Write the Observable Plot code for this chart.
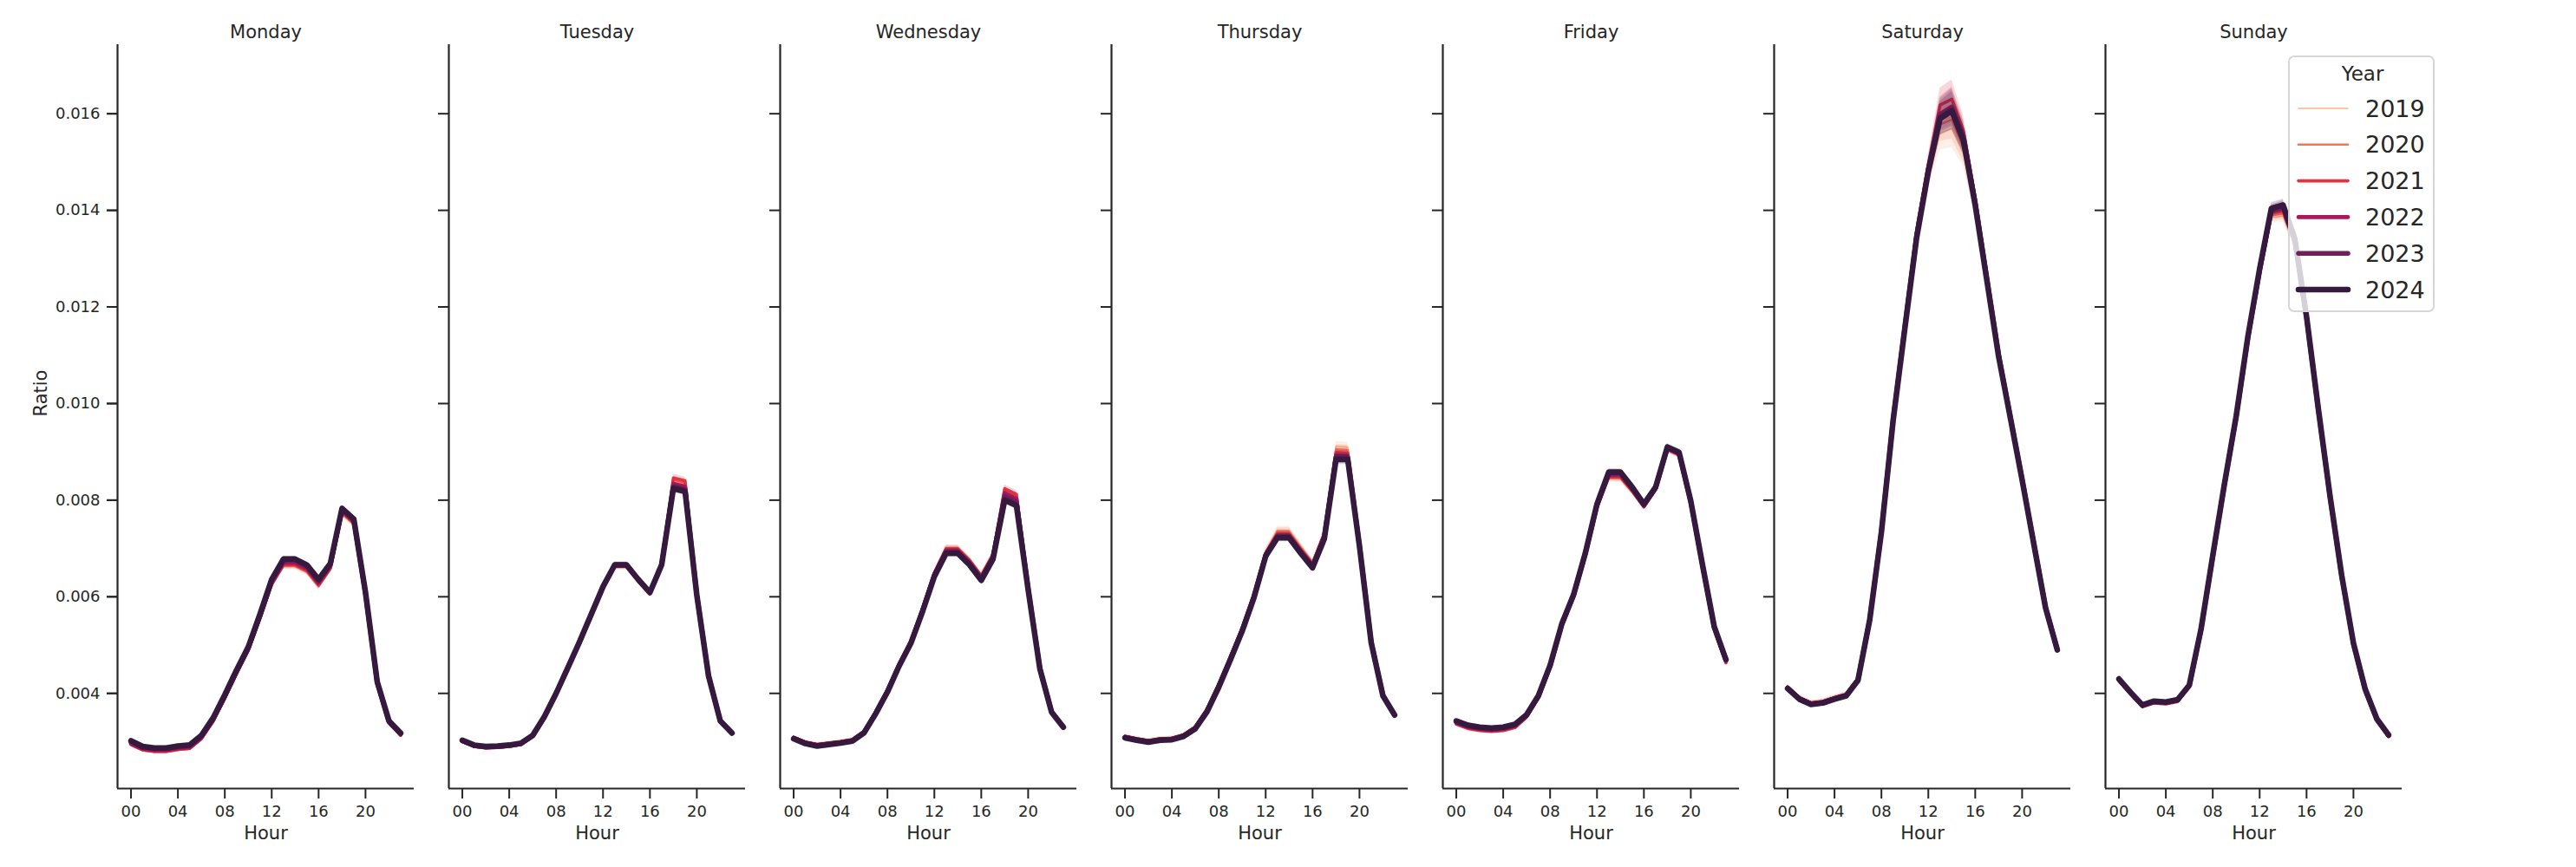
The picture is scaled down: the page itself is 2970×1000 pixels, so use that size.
<!DOCTYPE html>
<html>
<head>
<meta charset="utf-8">
<script src="https://cdn.jsdelivr.net/npm/d3@7"></script>
<script src="https://cdn.jsdelivr.net/npm/@observablehq/plot@0.6"></script>
<style>
  body { margin: 0; background: #ffffff; font-family: "DejaVu Sans", sans-serif; }
  #wrap { position: relative; width: 2970px; height: 1000px; background: #ffffff; }
  #legend { position: absolute; left: 2638px; top: 64px; width: 169px; height: 296px; box-sizing: border-box;
            border: 2px solid #d6d6d6; border-radius: 7px; background: rgba(255,255,255,0.8); }
</style>
</head>
<body>
<div id="wrap"><div id="legend"></div></div>
<script>
// ---------- categories ----------
const days = ["Monday", "Tuesday", "Wednesday", "Thursday", "Friday", "Saturday", "Sunday"];
const years = [2019, 2020, 2021, 2022, 2023, 2024];
const hours = [0,1,2,3,4,5,6,7,8,9,10,11,12,13,14,15,16,17,18,19,20,21,22,23];
const xTicks = [0, 4, 8, 12, 16, 20];
const yTicks = [0.004, 0.006, 0.008, 0.010, 0.012, 0.014, 0.016];

// ---------- series values (Ratio by hour) ----------
const mon2019 = [0.00292,0.00281,0.00278,0.00278,0.00282,0.00284,0.00304,0.00340,0.00387,0.00438,0.00486,0.00552,0.00622,0.00662,0.00662,0.00650,0.00620,0.00655,0.00771,0.00749,0.00601,0.00418,0.00337,0.00311];
const mon2020 = [0.00293,0.00282,0.00279,0.00279,0.00283,0.00285,0.00305,0.00341,0.00388,0.00439,0.00487,0.00553,0.00624,0.00664,0.00664,0.00652,0.00622,0.00657,0.00773,0.00751,0.00602,0.00419,0.00338,0.00312];
const mon2021 = [0.00294,0.00283,0.00280,0.00280,0.00284,0.00286,0.00306,0.00342,0.00390,0.00441,0.00489,0.00555,0.00626,0.00666,0.00666,0.00654,0.00624,0.00659,0.00775,0.00753,0.00603,0.00420,0.00339,0.00313];
const mon2022 = [0.00296,0.00285,0.00282,0.00282,0.00286,0.00288,0.00308,0.00344,0.00392,0.00443,0.00491,0.00558,0.00629,0.00670,0.00670,0.00658,0.00628,0.00662,0.00778,0.00756,0.00605,0.00421,0.00340,0.00315];
const mon2023 = [0.00299,0.00288,0.00285,0.00285,0.00289,0.00291,0.00311,0.00347,0.00395,0.00446,0.00494,0.00561,0.00633,0.00674,0.00675,0.00662,0.00632,0.00666,0.00781,0.00759,0.00607,0.00423,0.00342,0.00317];
const mon2024 = [0.00302,0.00290,0.00287,0.00287,0.00291,0.00293,0.00313,0.00349,0.00397,0.00448,0.00496,0.00564,0.00636,0.00678,0.00678,0.00666,0.00636,0.00669,0.00783,0.00761,0.00609,0.00424,0.00343,0.00318];

const tue2019 = [0.00299,0.00289,0.00286,0.00287,0.00289,0.00293,0.00310,0.00349,0.00397,0.00450,0.00504,0.00561,0.00617,0.00661,0.00661,0.00631,0.00604,0.00668,0.00838,0.00832,0.00605,0.00436,0.00342,0.00317];
const tue2020 = [0.00300,0.00290,0.00287,0.00288,0.00290,0.00294,0.00311,0.00350,0.00398,0.00451,0.00505,0.00562,0.00618,0.00662,0.00662,0.00632,0.00605,0.00669,0.00842,0.00836,0.00606,0.00436,0.00342,0.00317];
const tue2021 = [0.00300,0.00290,0.00287,0.00288,0.00290,0.00294,0.00311,0.00350,0.00398,0.00451,0.00505,0.00562,0.00619,0.00663,0.00663,0.00633,0.00606,0.00670,0.00846,0.00840,0.00607,0.00437,0.00342,0.00317];
const tue2022 = [0.00301,0.00291,0.00288,0.00289,0.00291,0.00295,0.00312,0.00351,0.00399,0.00452,0.00506,0.00563,0.00620,0.00665,0.00665,0.00635,0.00608,0.00668,0.00834,0.00828,0.00605,0.00437,0.00343,0.00318];
const tue2023 = [0.00302,0.00292,0.00289,0.00290,0.00292,0.00296,0.00312,0.00351,0.00400,0.00453,0.00507,0.00564,0.00621,0.00666,0.00666,0.00636,0.00609,0.00667,0.00828,0.00822,0.00604,0.00436,0.00343,0.00318];
const tue2024 = [0.00303,0.00293,0.00290,0.00291,0.00293,0.00297,0.00313,0.00352,0.00400,0.00453,0.00507,0.00564,0.00621,0.00666,0.00666,0.00636,0.00609,0.00666,0.00824,0.00818,0.00603,0.00436,0.00343,0.00318];

const wed2019 = [0.00311,0.00301,0.00296,0.00299,0.00302,0.00306,0.00323,0.00362,0.00407,0.00461,0.00509,0.00576,0.00651,0.00702,0.00702,0.00678,0.00646,0.00688,0.00816,0.00805,0.00619,0.00453,0.00363,0.00332];
const wed2020 = [0.00310,0.00300,0.00295,0.00298,0.00301,0.00305,0.00322,0.00361,0.00406,0.00460,0.00508,0.00575,0.00650,0.00701,0.00701,0.00677,0.00645,0.00688,0.00820,0.00808,0.00620,0.00454,0.00363,0.00332];
const wed2021 = [0.00309,0.00299,0.00294,0.00297,0.00300,0.00304,0.00321,0.00361,0.00406,0.00460,0.00508,0.00575,0.00649,0.00699,0.00699,0.00675,0.00643,0.00687,0.00824,0.00812,0.00621,0.00454,0.00363,0.00332];
const wed2022 = [0.00308,0.00298,0.00293,0.00296,0.00299,0.00303,0.00320,0.00360,0.00405,0.00459,0.00506,0.00573,0.00647,0.00696,0.00696,0.00672,0.00640,0.00684,0.00815,0.00803,0.00619,0.00453,0.00362,0.00331];
const wed2023 = [0.00307,0.00297,0.00292,0.00295,0.00298,0.00302,0.00319,0.00359,0.00404,0.00458,0.00505,0.00572,0.00645,0.00693,0.00693,0.00669,0.00637,0.00681,0.00808,0.00796,0.00617,0.00452,0.00362,0.00331];
const wed2024 = [0.00306,0.00296,0.00291,0.00294,0.00297,0.00301,0.00318,0.00358,0.00403,0.00457,0.00504,0.00570,0.00642,0.00690,0.00690,0.00666,0.00634,0.00678,0.00800,0.00789,0.00615,0.00451,0.00361,0.00330];

const thu2019 = [0.00313,0.00308,0.00304,0.00308,0.00309,0.00316,0.00332,0.00369,0.00421,0.00480,0.00539,0.00609,0.00694,0.00738,0.00738,0.00705,0.00673,0.00735,0.00912,0.00910,0.00710,0.00508,0.00398,0.00358];
const thu2020 = [0.00312,0.00307,0.00303,0.00307,0.00308,0.00315,0.00331,0.00368,0.00420,0.00478,0.00537,0.00607,0.00692,0.00735,0.00735,0.00702,0.00671,0.00733,0.00905,0.00904,0.00709,0.00508,0.00398,0.00358];
const thu2021 = [0.00311,0.00306,0.00302,0.00306,0.00307,0.00314,0.00330,0.00366,0.00418,0.00476,0.00535,0.00604,0.00690,0.00730,0.00730,0.00698,0.00668,0.00730,0.00899,0.00898,0.00708,0.00507,0.00397,0.00357];
const thu2022 = [0.00310,0.00305,0.00301,0.00305,0.00306,0.00313,0.00329,0.00365,0.00417,0.00474,0.00533,0.00602,0.00688,0.00727,0.00727,0.00695,0.00665,0.00727,0.00893,0.00892,0.00707,0.00506,0.00396,0.00356];
const thu2023 = [0.00309,0.00304,0.00300,0.00304,0.00305,0.00312,0.00328,0.00364,0.00415,0.00472,0.00531,0.00600,0.00686,0.00725,0.00725,0.00693,0.00663,0.00724,0.00890,0.00889,0.00706,0.00506,0.00396,0.00356];
const thu2024 = [0.00308,0.00303,0.00299,0.00303,0.00304,0.00311,0.00327,0.00362,0.00413,0.00470,0.00529,0.00598,0.00684,0.00722,0.00722,0.00690,0.00660,0.00720,0.00884,0.00884,0.00705,0.00505,0.00395,0.00355];

const fri2019 = [0.00340,0.00331,0.00327,0.00325,0.00327,0.00333,0.00354,0.00393,0.00456,0.00542,0.00602,0.00688,0.00787,0.00844,0.00844,0.00817,0.00788,0.00824,0.00907,0.00896,0.00796,0.00664,0.00536,0.00468];
const fri2020 = [0.00338,0.00329,0.00325,0.00323,0.00325,0.00331,0.00352,0.00392,0.00455,0.00541,0.00601,0.00687,0.00786,0.00846,0.00846,0.00818,0.00787,0.00823,0.00906,0.00895,0.00795,0.00663,0.00535,0.00466];
const fri2021 = [0.00336,0.00327,0.00323,0.00321,0.00323,0.00329,0.00351,0.00391,0.00454,0.00540,0.00600,0.00686,0.00785,0.00848,0.00848,0.00819,0.00786,0.00822,0.00905,0.00894,0.00794,0.00662,0.00533,0.00463];
const fri2022 = [0.00339,0.00330,0.00326,0.00324,0.00326,0.00332,0.00353,0.00393,0.00456,0.00542,0.00602,0.00688,0.00788,0.00852,0.00852,0.00822,0.00788,0.00824,0.00907,0.00896,0.00796,0.00664,0.00536,0.00467];
const fri2023 = [0.00341,0.00332,0.00328,0.00326,0.00328,0.00334,0.00355,0.00394,0.00457,0.00543,0.00603,0.00689,0.00790,0.00855,0.00855,0.00825,0.00790,0.00826,0.00909,0.00898,0.00797,0.00665,0.00537,0.00469];
const fri2024 = [0.00343,0.00334,0.00330,0.00328,0.00330,0.00336,0.00356,0.00395,0.00458,0.00544,0.00604,0.00690,0.00792,0.00858,0.00858,0.00827,0.00792,0.00827,0.00910,0.00899,0.00798,0.00666,0.00538,0.00470];

const sat2019 = [0.00415,0.00393,0.00382,0.00385,0.00393,0.00400,0.00431,0.00552,0.00730,0.00958,0.01147,0.01330,0.01465,0.01560,0.01570,0.01520,0.01398,0.01247,0.01093,0.00968,0.00842,0.00709,0.00578,0.00493];
const sat2020 = [0.00414,0.00392,0.00381,0.00384,0.00392,0.00399,0.00430,0.00553,0.00733,0.00962,0.01152,0.01338,0.01472,0.01578,0.01588,0.01530,0.01403,0.01250,0.01095,0.00969,0.00842,0.00709,0.00578,0.00492];
const sat2021 = [0.00413,0.00391,0.00380,0.00383,0.00391,0.00398,0.00430,0.00556,0.00740,0.00972,0.01166,0.01358,0.01495,0.01618,0.01630,0.01565,0.01425,0.01264,0.01104,0.00975,0.00846,0.00712,0.00579,0.00492];
const sat2022 = [0.00412,0.00390,0.00379,0.00382,0.00390,0.00397,0.00429,0.00554,0.00737,0.00968,0.01161,0.01350,0.01488,0.01600,0.01615,0.01556,0.01419,0.01260,0.01101,0.00973,0.00844,0.00710,0.00578,0.00491];
const sat2023 = [0.00411,0.00389,0.00378,0.00381,0.00389,0.00396,0.00428,0.00553,0.00736,0.00967,0.01159,0.01347,0.01485,0.01596,0.01612,0.01552,0.01416,0.01258,0.01100,0.00972,0.00843,0.00710,0.00578,0.00491];
const sat2024 = [0.00410,0.00388,0.00377,0.00380,0.00388,0.00395,0.00427,0.00552,0.00734,0.00965,0.01156,0.01343,0.01480,0.01590,0.01606,0.01544,0.01411,0.01254,0.01097,0.00970,0.00842,0.00709,0.00577,0.00490];

const sun2019 = [0.00428,0.00400,0.00374,0.00382,0.00380,0.00385,0.00414,0.00529,0.00678,0.00824,0.00963,0.01126,0.01262,0.01385,0.01388,0.01327,0.01175,0.00986,0.00806,0.00641,0.00502,0.00407,0.00345,0.00311];
const sun2020 = [0.00427,0.00399,0.00373,0.00381,0.00379,0.00384,0.00414,0.00530,0.00680,0.00827,0.00966,0.01129,0.01266,0.01390,0.01393,0.01330,0.01176,0.00987,0.00806,0.00641,0.00502,0.00407,0.00345,0.00311];
const sun2021 = [0.00426,0.00398,0.00372,0.00380,0.00378,0.00383,0.00413,0.00529,0.00681,0.00829,0.00969,0.01132,0.01270,0.01395,0.01398,0.01333,0.01177,0.00987,0.00806,0.00641,0.00501,0.00406,0.00344,0.00310];
const sun2022 = [0.00428,0.00400,0.00374,0.00382,0.00380,0.00385,0.00415,0.00531,0.00683,0.00831,0.00971,0.01135,0.01273,0.01398,0.01403,0.01336,0.01178,0.00988,0.00807,0.00642,0.00502,0.00407,0.00345,0.00312];
const sun2023 = [0.00429,0.00401,0.00375,0.00383,0.00381,0.00386,0.00416,0.00532,0.00684,0.00833,0.00973,0.01137,0.01276,0.01400,0.01408,0.01339,0.01179,0.00989,0.00808,0.00643,0.00503,0.00408,0.00346,0.00313];
const sun2024 = [0.00430,0.00402,0.00376,0.00384,0.00382,0.00387,0.00417,0.00533,0.00685,0.00834,0.00974,0.01139,0.01279,0.01404,0.01411,0.01341,0.01180,0.00990,0.00809,0.00644,0.00504,0.00409,0.00347,0.00314];

// ---------- confidence-band half widths ----------
const ciMon = [0.00003,0.00003,0.00003,0.00003,0.00003,0.00003,0.00003,0.00004,0.00004,0.00004,0.00004,0.00005,0.00005,0.00006,0.00006,0.00006,0.00006,0.00006,0.00007,0.00006,0.00005,0.00004,0.00004,0.00003];
const ciTue = [0.00003,0.00003,0.00003,0.00003,0.00003,0.00003,0.00003,0.00004,0.00004,0.00004,0.00004,0.00005,0.00005,0.00006,0.00006,0.00006,0.00006,0.00006,0.00008,0.00008,0.00005,0.00004,0.00004,0.00003];
const ciWed = [0.00003,0.00003,0.00003,0.00003,0.00003,0.00003,0.00003,0.00004,0.00004,0.00004,0.00004,0.00005,0.00005,0.00006,0.00006,0.00006,0.00006,0.00006,0.00008,0.00008,0.00005,0.00004,0.00004,0.00003];
const ciThu = [0.00003,0.00003,0.00003,0.00003,0.00003,0.00003,0.00003,0.00004,0.00004,0.00005,0.00005,0.00006,0.00006,0.00008,0.00008,0.00007,0.00006,0.00007,0.00010,0.00010,0.00006,0.00004,0.00004,0.00003];
const ciFri = [0.00003,0.00003,0.00003,0.00003,0.00003,0.00003,0.00003,0.00004,0.00004,0.00005,0.00005,0.00006,0.00006,0.00007,0.00007,0.00006,0.00006,0.00006,0.00007,0.00007,0.00006,0.00005,0.00004,0.00004];
const ciSat = [0.00004,0.00004,0.00004,0.00004,0.00004,0.00004,0.00005,0.00006,0.00008,0.00010,0.00012,0.00015,0.00020,0.00035,0.00040,0.00030,0.00015,0.00010,0.00008,0.00007,0.00006,0.00005,0.00005,0.00004];
const ciSun = [0.00004,0.00004,0.00004,0.00004,0.00004,0.00004,0.00004,0.00005,0.00006,0.00007,0.00008,0.00009,0.00010,0.00012,0.00012,0.00010,0.00008,0.00007,0.00006,0.00005,0.00005,0.00004,0.00004,0.00004];

// ---------- styles ----------
const yearColors = ["#f6b48f", "#f37651", "#e13342", "#ad1759", "#701f57", "#35193e"];
const lineWidths = [1.6, 2.6, 3.6, 4.6, 5.5, 6.5];
const ink = "#262626";

// ---------- table built from the arrays ----------
const dayTable = [
  ["Monday",    [mon2019, mon2020, mon2021, mon2022, mon2023, mon2024], ciMon],
  ["Tuesday",   [tue2019, tue2020, tue2021, tue2022, tue2023, tue2024], ciTue],
  ["Wednesday", [wed2019, wed2020, wed2021, wed2022, wed2023, wed2024], ciWed],
  ["Thursday",  [thu2019, thu2020, thu2021, thu2022, thu2023, thu2024], ciThu],
  ["Friday",    [fri2019, fri2020, fri2021, fri2022, fri2023, fri2024], ciFri],
  ["Saturday",  [sat2019, sat2020, sat2021, sat2022, sat2023, sat2024], ciSat],
  ["Sunday",    [sun2019, sun2020, sun2021, sun2022, sun2023, sun2024], ciSun]
];
const rows = [];
for (const [day, ser, ci] of dayTable) {
  years.forEach((yr, i) => {
    hours.forEach((h, k) => {
      const v = ser[i][k];
      rows.push({day, year: yr, hour: h, ratio: v, lo: v - ci[k], hi: v + ci[k]});
    });
  });
}

const xDomain = [-1.15, 24.15];
const yDomain = [0.00203, 0.01743];

const marks = [];
years.forEach((yr, i) => {
  const d = rows.filter(r => r.year === yr);
  marks.push(Plot.areaY(d, {fx: "day", x: "hour", y1: "lo", y2: "hi", fill: yearColors[i], fillOpacity: 0.2}));
  marks.push(Plot.line(d, {fx: "day", x: "hour", y: "ratio", stroke: yearColors[i], strokeWidth: lineWidths[i],
                           strokeLinejoin: "round", strokeLinecap: "round"}));
});

const chart = Plot.plot({
  width: 2970,
  height: 1000,
  marginLeft: 133,
  marginRight: 199,
  marginTop: 51,
  marginBottom: 91,
  style: {fontFamily: "DejaVu Sans, sans-serif", fontSize: "18px", color: ink, background: "transparent"},
  fx: {domain: days, paddingInner: 0.106, paddingOuter: 0, label: null},
  x: {domain: xDomain},
  y: {domain: yDomain},
  marks: [
    Plot.axisFx({anchor: "top", label: null, tickSize: 0, tickPadding: 8, fontSize: 21}),
    Plot.axisY({ticks: yTicks, tickFormat: d3.format(".3f"), tickSize: 12, tickPadding: 8, strokeWidth: 2,
                label: null, facetAnchor: "left"}),
    Plot.axisY({ticks: yTicks, tickFormat: () => "", tickSize: 12, strokeWidth: 2, label: null, facetAnchor: null}),
    Plot.axisX({ticks: xTicks, tickFormat: d => String(d).padStart(2, "0"), tickSize: 12, tickPadding: 8,
                strokeWidth: 2, label: null, facetAnchor: null}),
    Plot.ruleX([xDomain[0]], {stroke: ink, strokeWidth: 2.2}),
    Plot.ruleY([yDomain[0]], {stroke: ink, strokeWidth: 2.2}),
    ...marks,
    Plot.text(days, {fx: d => d, text: () => "Hour", frameAnchor: "bottom", dy: 58, fontSize: 21, fill: ink}),
    Plot.text(["Ratio"], {fx: () => "Monday", text: d => d, frameAnchor: "left", dx: -88, rotate: -90, fontSize: 21, fill: ink})
  ]
});
document.getElementById("wrap").insertBefore(chart, document.getElementById("legend"));
chart.style.position = "absolute";
chart.style.left = "0px";
chart.style.top = "0px";

// ---------- legend ----------
const lg = d3.select("#legend").append("svg").attr("width", 165).attr("height", 292)
  .style("font-family", "DejaVu Sans, sans-serif");
lg.append("text").attr("x", 84).attr("y", 19).attr("text-anchor", "middle").attr("dominant-baseline", "central")
  .attr("font-size", 23).attr("fill", ink).text("Year");
years.forEach((yr, i) => {
  const cy = 59 + i * 41.8;
  lg.append("line").attr("x1", 10).attr("x2", 67).attr("y1", cy).attr("y2", cy)
    .attr("stroke", yearColors[i]).attr("stroke-width", lineWidths[i]).attr("stroke-linecap", "round");
  lg.append("text").attr("x", 87).attr("y", cy).attr("dominant-baseline", "central")
    .attr("font-size", 27).attr("fill", ink).text(String(yr));
});
</script>
</body>
</html>
